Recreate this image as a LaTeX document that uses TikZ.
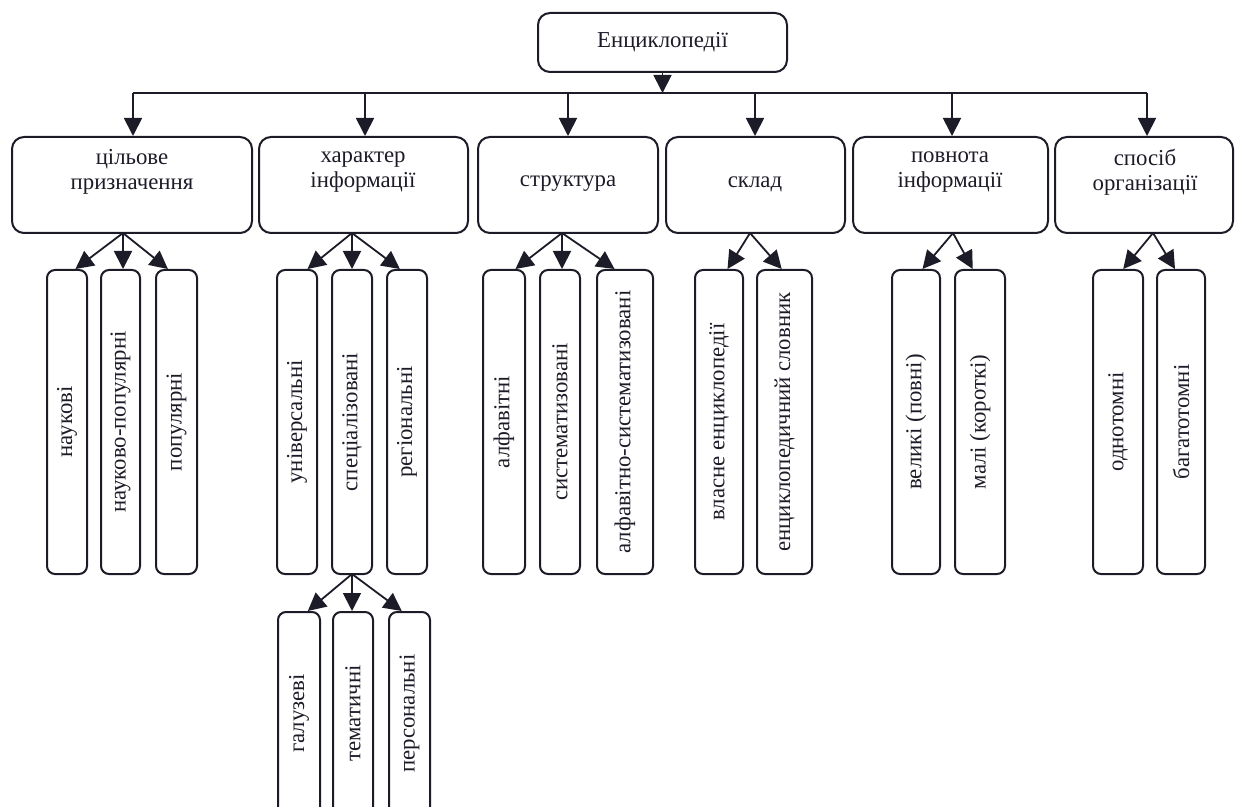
\documentclass[tikz,border=0pt]{standalone}
\usepackage{fontspec}
\setmainfont{Liberation Serif}
\usetikzlibrary{arrows.meta,fit,calc}
\definecolor{ink}{RGB}{28,28,40}
\begin{document}
\begin{tikzpicture}[x=0.5pt,y=-0.5pt,
  box/.style={draw=ink, line width=1pt, rounded corners=6pt, inner sep=0pt},
  leaf/.style={draw=ink, line width=1pt, rounded corners=4pt, inner sep=0pt},
  lbl/.style={font=\fontsize{11.4}{12.5}\selectfont, align=center, text=ink, inner sep=0pt},
  vlbl/.style={lbl, rotate=90},
  arr/.style={draw=ink, line width=0.9pt, -{Triangle[length=9pt,width=9pt]}},
  ln/.style={draw=ink, line width=0.9pt}]
\useasboundingbox (0,0) rectangle (1235,807);
\clip (0,0) rectangle (1235,807);
% top
\node[box, fit={(538,13) (787,72)}] (top) {};
\node[lbl] at (top.center) {Енциклопедії};
% second level
\node[box, fit={(12,137) (252,233)}] (p1) {};
\node[box, fit={(259,137) (468,233)}] (p2) {};
\node[box, fit={(478,137) (658,233)}] (p3) {};
\node[box, fit={(666,137) (845,233)}] (p4) {};
\node[box, fit={(853,137) (1048,233)}] (p5) {};
\node[box, fit={(1055,137) (1233,233)}] (p6) {};
\node[lbl] at (132,172) {цільове\\призначення};
\node[lbl] at (363,172) {характер\\інформації};
\node[lbl] at (568,184) {структура};
\node[lbl] at (755,184) {склад};
\node[lbl] at (950,172) {повнота\\інформації};
\node[lbl] at (1145,172) {спосіб\\організації};
% bus
\coordinate (busy) at (0,93);
\coordinate (d1) at (133,93);
\coordinate (d2) at (365,93);
\coordinate (d3) at (568,93);
\coordinate (d4) at (755,93);
\coordinate (d5) at (952,93);
\coordinate (d6) at (1147,93);
\draw[arr] (top.south) -- (top.south |- busy);
\draw[ln] (d1) -- (d6);
\draw[arr] (d1) -- (d1 |- p1.north);
\draw[arr] (d2) -- (d2 |- p2.north);
\draw[arr] (d3) -- (d3 |- p3.north);
\draw[arr] (d4) -- (d4 |- p4.north);
\draw[arr] (d5) -- (d5 |- p5.north);
\draw[arr] (d6) -- (d6 |- p6.north);
% leaves group 1
\node[leaf, fit={(47,270) (87,574)}] (a1) {};
\node[leaf, fit={(101,270) (140,574)}] (a2) {};
\node[leaf, fit={(156,270) (197,574)}] (a3) {};
\node[vlbl] at (a1.center) {наукові};
\node[vlbl] at (a2.center) {науково-популярні};
\node[vlbl] at (a3.center) {популярні};
% group 2
\node[leaf, fit={(277,270) (317,574)}] (b1) {};
\node[leaf, fit={(332,270) (372,574)}] (b2) {};
\node[leaf, fit={(387,270) (427,574)}] (b3) {};
\node[vlbl] at (b1.center) {універсальні};
\node[vlbl] at (b2.center) {спеціалізовані};
\node[vlbl] at (b3.center) {регіональні};
% grandchildren
\node[leaf, fit={(278,612) (320,815)}] (s1) {};
\node[leaf, fit={(333,612) (373,815)}] (s2) {};
\node[leaf, fit={(389,612) (430,815)}] (s3) {};
\node[vlbl] at (s1.center) {галузеві};
\node[vlbl] at (s2.center) {тематичні};
\node[vlbl] at (s3.center) {персональні};
% group 3
\node[leaf, fit={(483,270) (525,574)}] (c1) {};
\node[leaf, fit={(540,270) (580,574)}] (c2) {};
\node[leaf, fit={(597,270) (653,574)}] (c3) {};
\node[vlbl] at (c1.center) {алфавітні};
\node[vlbl] at (c2.center) {систематизовані};
\node[vlbl] at (c3.center) {алфавітно-систематизовані};
% group 4
\node[leaf, fit={(695,270) (743,574)}] (e1) {};
\node[leaf, fit={(757,270) (812,574)}] (e2) {};
\node[vlbl] at (e1.center) {власне енциклопедії};
\node[vlbl] at (e2.center) {енциклопедичний словник};
% group 5
\node[leaf, fit={(892,270) (940,574)}] (h1) {};
\node[leaf, fit={(955,270) (1005,574)}] (h2) {};
\node[vlbl] at (h1.center) {великі (повні)};
\node[vlbl] at (h2.center) {малі (короткі)};
% group 6
\node[leaf, fit={(1093,270) (1143,574)}] (g1) {};
\node[leaf, fit={(1157,270) (1205,574)}] (g2) {};
\node[vlbl] at (g1.center) {однотомні};
\node[vlbl] at (g2.center) {багатотомні};
% fan points
\coordinate (f1) at (123,233);
\coordinate (f2) at (352,233);
\coordinate (fs) at (352,574);
\coordinate (f3) at (562,233);
\coordinate (f4) at (750,233);
\coordinate (f5) at (953,233);
\coordinate (f6) at (1153,233);
% fans
\draw[arr] (f1) -- ($(a1.north west)!0.7!(a1.north east)$);
\draw[arr] (f1) -- (f1 |- a2.north);
\draw[arr] (f1) -- ($(a3.north west)!0.3!(a3.north east)$);
\draw[arr] (f2) -- ($(b1.north west)!0.75!(b1.north east)$);
\draw[arr] (f2) -- (f2 |- b2.north);
\draw[arr] (f2) -- ($(b3.north west)!0.33!(b3.north east)$);
\draw[arr] (fs) -- ($(s1.north west)!0.7!(s1.north east)$);
\draw[arr] (fs) -- (fs |- s2.north);
\draw[arr] (fs) -- ($(s3.north west)!0.32!(s3.north east)$);
\draw[arr] (f3) -- ($(c1.north west)!0.76!(c1.north east)$);
\draw[arr] (f3) -- (f3 |- c2.north);
\draw[arr] (f3) -- ($(c3.north west)!0.32!(c3.north east)$);
\draw[arr] (f4) -- ($(e1.north west)!0.67!(e1.north east)$);
\draw[arr] (f4) -- ($(e2.north west)!0.45!(e2.north east)$);
\draw[arr] (f5) -- ($(h1.north west)!0.63!(h1.north east)$);
\draw[arr] (f5) -- ($(h2.north west)!0.36!(h2.north east)$);
\draw[arr] (f6) -- ($(g1.north west)!0.6!(g1.north east)$);
\draw[arr] (f6) -- ($(g2.north west)!0.38!(g2.north east)$);
\end{tikzpicture}
\end{document}
